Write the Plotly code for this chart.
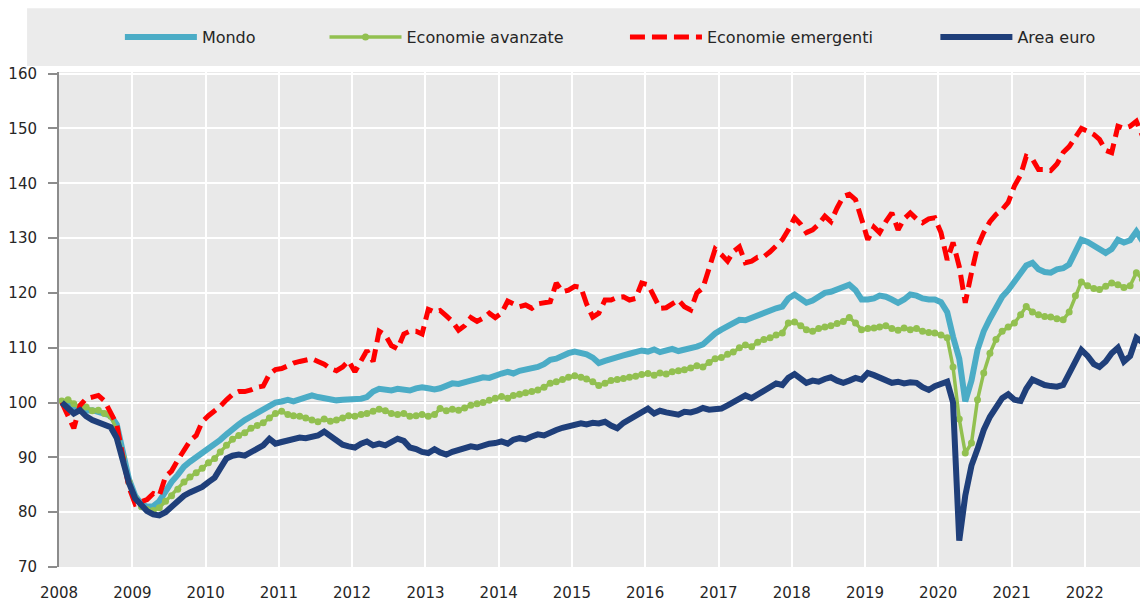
import pandas as pd
import plotly.graph_objects as go

# ---------------- data (monthly index, Jan 2008 = 100) ----------------
years = list(range(2008, 2023))
year_labels = [str(y) for y in years]
y_ticks = [70, 80, 90, 100, 110, 120, 130, 140, 150, 160]

series_names = ["Mondo", "Economie avanzate", "Economie emergenti", "Area euro"]

mondo = [
    100, 99.6, 99.1, 98.6, 98.5, 98.6, 98.3, 98.0, 97.6, 96.0, 90.5, 86.0,
    83.0, 81.5, 81.0, 81.1, 82.0, 84.0, 85.5, 86.8, 88.3, 89.2, 90.0, 90.8,
    91.5, 92.3, 93.2, 94.2, 95.2, 96.0, 96.8, 97.4, 98.0, 98.8, 99.4, 100.0,
    100.2, 100.5, 100.2, 100.6, 100.8, 101.3, 101.0, 100.8, 100.6, 100.4, 100.5, 100.6,
    100.5, 100.7, 101.0, 102.0, 102.5, 102.3, 102.2, 102.5, 102.4, 102.2, 102.6, 102.8,
    102.6, 102.4, 102.6, 103.0, 103.5, 103.4, 103.8, 104.0, 104.3, 104.6, 104.5, 105.0,
    105.3, 105.6, 105.3, 105.8, 106.0, 106.2, 106.5, 107.0, 107.8, 108.0, 108.6, 109.0,
    109.3, 109.0, 108.8, 108.2, 107.2, 107.6, 108.0, 108.3, 108.6, 108.9, 109.2, 109.5,
    109.3, 109.7, 109.2, 109.5, 109.8, 109.4, 109.6, 109.9, 110.2, 110.6, 111.8, 112.6,
    113.3, 114.0, 114.5, 115.1, 115.0, 115.5, 116.0, 116.4, 116.8, 117.2, 117.5, 119.0,
    119.7, 119.0, 118.2, 118.6, 119.3, 120.0, 120.2, 120.6, 121.0, 121.5, 120.5, 118.8,
    118.8, 119.0, 119.5, 119.3, 118.8, 118.2, 118.8, 119.7, 119.5, 119.0, 118.8, 118.8,
    118.3, 116.5, 112.0, 108.0, 100.2, 104.0, 109.6, 113.0, 115.3, 117.5, 119.3, 120.5,
    122.0, 123.5, 125.0, 125.5, 124.3, 123.8, 123.7, 124.3, 124.5, 125.2, 127.5, 129.7,
    129.3, 128.6, 128.2, 127.3, 128.0, 129.7, 129.2, 129.6, 131.2, 129.5, 127.0, 126.5,
]

avanzate = [
    100.3, 100.5, 99.8, 99.0, 99.2, 98.5, 98.6, 98.0, 97.5, 95.0, 90.0, 85.5,
    82.5, 81.0, 80.5, 80.3, 80.8, 82.0, 83.0, 84.2, 85.5, 86.4, 87.2, 88.0,
    89.0, 89.8, 91.0, 92.2, 93.3, 94.0, 94.5, 95.3, 95.8, 96.3, 97.2, 98.0,
    98.4, 97.8, 97.6, 97.5, 97.2, 96.8, 96.5, 97.0, 96.6, 96.8, 97.2, 97.6,
    97.5, 97.8, 98.0, 98.4, 98.8, 98.5, 98.0, 97.8, 98.0, 97.5, 97.6, 97.8,
    97.5, 97.8, 98.9, 98.5, 98.8, 98.6, 99.0, 99.5, 99.8, 100.0, 100.4, 100.8,
    101.1, 100.8, 101.3, 101.5, 101.8, 102.0, 102.3, 102.8, 103.5, 103.8, 104.2, 104.6,
    104.9, 104.6, 104.3, 103.8, 103.1, 103.5, 104.0, 104.2, 104.4, 104.6, 104.8, 105.1,
    105.3, 105.0, 105.4, 105.2, 105.6, 105.8, 106.0, 106.3, 106.7, 106.5, 107.3, 108.0,
    108.2, 108.8, 109.2, 110.0, 110.5, 110.2, 111.0, 111.5, 111.8, 112.3, 112.7, 114.5,
    114.7, 114.0, 113.3, 113.0, 113.5, 113.8, 114.0, 114.4, 114.8, 115.5, 114.5, 113.3,
    113.5, 113.6, 113.8, 114.0, 113.5, 113.2, 113.6, 113.3, 113.5, 113.0, 112.8, 112.7,
    112.3, 111.8, 106.5, 97.0, 90.8, 92.6, 100.5, 105.4, 109.0, 111.5, 113.0, 113.8,
    114.5, 116.0, 117.5, 116.5, 116.0, 115.7, 115.6, 115.3, 115.1, 116.5, 119.5, 122.0,
    121.3, 120.8, 120.6, 121.2, 121.8, 121.5, 121.0, 121.3, 123.7, 122.5, 121.0, 120.5,
]

emergenti = [
    100, 97.8, 95.3, 99.5, 100.7, 101.0, 101.3, 100.3, 98.2, 96.0, 90.0, 84.5,
    81.5, 81.8, 82.3, 83.4, 83.0, 86.5, 87.5, 89.5, 91.2, 93.0, 94.0, 96.5,
    97.6, 98.4, 99.3, 100.5, 101.5, 102.0, 102.0, 102.3, 102.8, 103.0, 105.2, 106.0,
    106.2, 106.7, 107.2, 107.5, 107.8, 108.0, 107.5, 107.0, 106.2, 105.8, 106.5, 107.6,
    105.6, 107.5, 109.5, 107.5, 113.0, 112.3, 110.4, 109.8, 112.5, 113.0, 113.0, 112.5,
    117.0, 116.5, 116.8, 115.8, 114.8, 113.2, 114.0, 115.5, 114.8, 115.4, 116.3, 115.5,
    116.3, 118.5, 118.0, 117.5, 117.8, 117.2, 118.0, 118.3, 118.4, 121.8, 120.2, 120.5,
    121.2, 121.0, 118.0, 115.6, 116.3, 118.7, 118.7, 119.2, 119.3, 118.7, 119.0, 121.8,
    121.5, 119.3, 117.2, 117.3, 118.1, 118.7, 117.5, 116.9, 120.0, 120.9, 124.5, 128.0,
    127.0, 125.8, 127.5, 128.4, 125.5, 125.8, 126.5, 126.6, 127.5, 128.5, 129.7, 131.5,
    133.7, 132.5, 131.0, 131.5, 132.5, 134.0, 133.0, 135.5, 137.6, 138.0, 137.0, 133.5,
    129.7, 132.0, 131.0, 133.0, 134.6, 131.5, 133.5, 134.6, 133.5, 132.8, 133.5, 133.7,
    131.0, 126.0, 129.2, 124.8, 118.2, 123.7, 128.4, 131.0, 133.0, 134.3, 135.2, 136.5,
    139.5, 141.5, 144.9, 144.4, 142.5, 142.5, 142.3, 143.5, 145.6, 146.7, 148.5, 150.0,
    149.5, 148.9, 148.0, 146.0, 145.6, 150.4, 150.0, 150.4, 151.3, 148.5, 146.0, 145.0,
]

area_euro = [
    100, 98.8, 98.0, 98.6, 97.5, 96.8, 96.3, 96.0, 95.5, 93.5, 89.2, 85.3,
    82.5, 81.2, 80.2, 79.6, 79.4, 80.0, 81.0, 81.8, 83.0, 83.6, 84.0, 84.6,
    85.5, 86.3, 88.0, 89.8, 90.3, 90.5, 90.3, 91.0, 91.6, 92.2, 93.4, 92.5,
    92.8, 93.0, 93.4, 93.6, 93.5, 93.8, 94.0, 94.7, 93.8, 92.9, 92.3, 92.0,
    91.8, 92.5, 92.9, 92.2, 92.5, 92.2, 92.9, 93.4, 93.0, 91.8, 91.5, 91.0,
    90.8, 91.5, 90.9, 90.5, 91.0, 91.3, 91.5, 92.0, 91.8, 92.2, 92.5, 92.6,
    92.9, 92.5, 93.2, 93.5, 93.3, 93.8, 94.2, 94.0, 94.6, 95.0, 95.4, 95.6,
    95.8, 96.2, 96.0, 96.3, 96.2, 96.5, 95.8, 95.3, 96.3, 97.0, 97.5, 98.3,
    98.9, 98.0, 98.5, 98.2, 98.0, 97.8, 98.3, 98.2, 98.5, 99.0, 98.7, 98.9,
    98.9, 99.5, 100.0, 100.6, 101.3, 100.8, 101.5, 102.3, 102.8, 103.5, 103.2, 104.5,
    105.2, 104.5, 103.6, 104.0, 103.8, 104.3, 104.6, 104.0, 103.6, 104.0, 104.5, 104.2,
    105.4, 105.0, 104.5, 104.0, 103.6, 103.8, 103.5, 103.7, 103.6, 102.8, 102.3, 103.0,
    103.4, 103.8, 100.0, 74.8, 83.0, 88.5, 91.5, 95.0, 97.4, 99.3, 100.8, 101.5,
    100.5, 100.3, 102.5, 104.2, 103.6, 103.2, 103.0, 102.9, 103.2, 105.4, 107.5, 109.6,
    108.5, 107.0, 106.5, 107.5, 109.0, 110.0, 107.5, 108.5, 111.8, 111.0, 109.0, 108.5,
]

# monthly dates (mid-month)
dates = pd.date_range(start="2008-01-01", periods=len(mondo), freq="MS") + pd.Timedelta(days=14)

# ---------------- figure ----------------
# the page body has an 8px margin, so the figure is sized/offset to fit the 1148x602 window
BODY = 8
W, H = 1148 - BODY, 602 - BODY
ML, MR, MT, MB = 57 - BODY, 0, 72 - BODY, 34
PW = W - ML - MR
PH = H - MT - MB

FONT = "DejaVu Sans"
TXT = "#262626"

fig = go.Figure()

fig.add_trace(go.Scatter(
    x=dates, y=mondo, name=series_names[0], mode="lines",
    line=dict(color="#4BACC6", width=6), legend="legend",
))
fig.add_trace(go.Scatter(
    x=dates, y=avanzate, name=series_names[1], mode="lines+markers",
    line=dict(color="#92C050", width=3.5),
    marker=dict(color="#92C050", size=7), legend="legend2",
))
fig.add_trace(go.Scatter(
    x=dates, y=emergenti, name=series_names[2], mode="lines",
    line=dict(color="#FF0000", width=5, dash="15px,7px"), legend="legend3",
))
fig.add_trace(go.Scatter(
    x=dates, y=area_euro, name=series_names[3], mode="lines",
    line=dict(color="#1F3F7A", width=6), legend="legend4",
))

# screen-pixel -> paper coordinate helpers
def px_x(px):
    return (px - BODY - ML) / PW

def px_y(py):
    return 1 + (MT - (py - BODY)) / PH

leg_common = dict(
    orientation="h", yanchor="middle", y=px_y(37), xanchor="left",
    bgcolor="rgba(0,0,0,0)", borderwidth=0, itemwidth=72,
    font=dict(family=FONT, size=16, color=TXT),
)
leg_starts = [124, 329, 630, 941]
OFF = 6
fig.update_layout(
    legend=dict(x=px_x(leg_starts[0] - OFF), **leg_common),
    legend2=dict(x=px_x(leg_starts[1] - OFF), **leg_common),
    legend3=dict(x=px_x(leg_starts[2] - OFF), **leg_common),
    legend4=dict(x=px_x(leg_starts[3] - OFF), **leg_common),
)

# grey legend band
fig.add_shape(type="rect", xref="paper", yref="paper",
              x0=px_x(25), x1=px_x(1160), y0=px_y(66), y1=px_y(8),
              fillcolor="#EBEBEB", line=dict(width=0), layer="below")
# reference line at 100
fig.add_shape(type="line", xref="paper", yref="y", x0=0, x1=1, y0=100, y1=100,
              line=dict(color="#9A9A9A", width=1.5), layer="between")

fig.update_layout(
    width=W, height=H, autosize=False,
    margin=dict(l=ML, r=MR, t=MT, b=MB, pad=0),
    paper_bgcolor="white", plot_bgcolor="#E9E9E9",
    font=dict(family=FONT, size=15, color=TXT),
    showlegend=True,
)

fig.update_xaxes(
    type="date", range=["2008-01-01", "2022-11-12"],
    tickvals=[f"{y}-01-01" for y in years], ticktext=year_labels,
    showgrid=True, gridcolor="white", gridwidth=2,
    showline=False, zeroline=False, ticks="",
    ticklabelstandoff=15,
    tickfont=dict(family=FONT, size=15, color=TXT),
)
fig.update_yaxes(
    range=[70, 160.3], tickvals=y_ticks,
    showgrid=True, gridcolor="white", gridwidth=2,
    showline=True, linecolor="#8C8C8C", linewidth=2,
    ticks="outside", ticklen=9, tickwidth=2, tickcolor="#8C8C8C",
    ticklabelstandoff=8, zeroline=False,
    tickfont=dict(family=FONT, size=15, color=TXT),
)

fig.write_html("out.html")
